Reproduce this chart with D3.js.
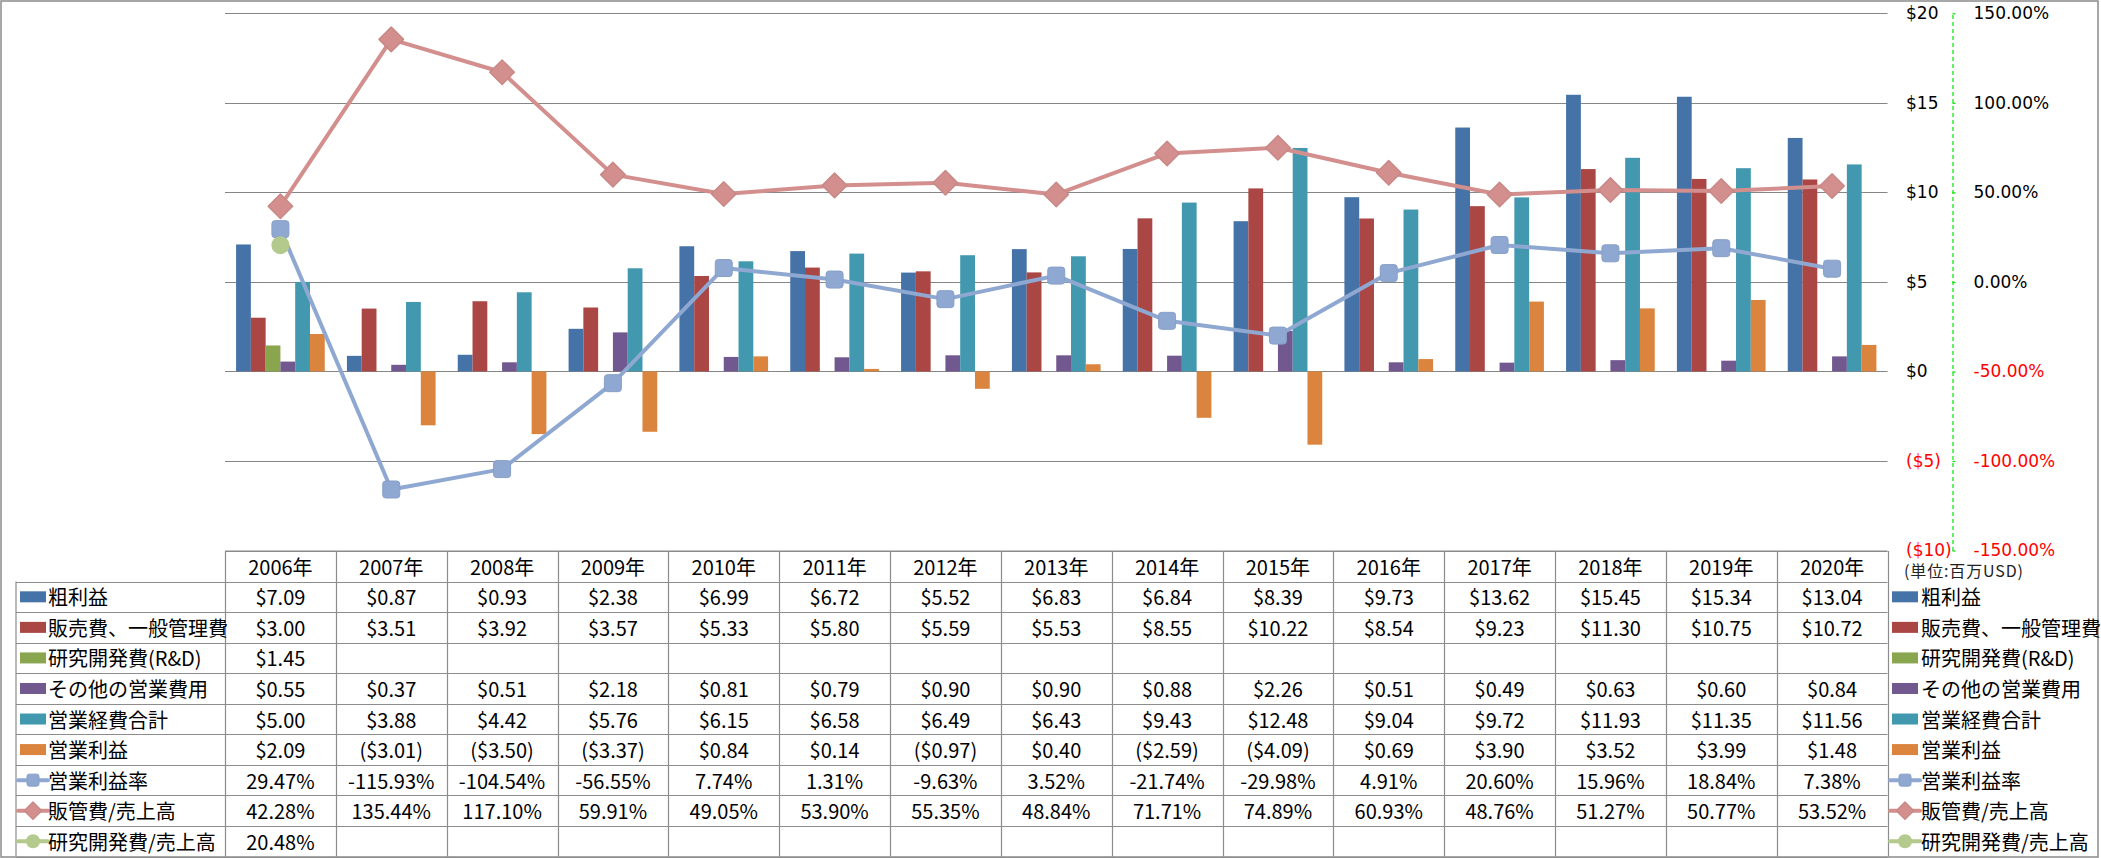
<!DOCTYPE html>
<html>
<head>
<meta charset="utf-8">
<script src="https://cdn.jsdelivr.net/npm/d3@7"></script>
<style>
  html, body { margin: 0; padding: 0; background: #fff; }
  svg { display: block; }
</style>
</head>
<body>
<svg id="chart" width="2101" height="858"></svg>
<script>
// ---------- DATA ----------
const years = ["2006年","2007年","2008年","2009年","2010年","2011年","2012年","2013年","2014年","2015年","2016年","2017年","2018年","2019年","2020年"];

const grossProfit = [7.09,0.87,0.93,2.38,6.99,6.72,5.52,6.83,6.84,8.39,9.73,13.62,15.45,15.34,13.04];
const sgaExpense  = [3.00,3.51,3.92,3.57,5.33,5.80,5.59,5.53,8.55,10.22,8.54,9.23,11.30,10.75,10.72];
const rndExpense  = [1.45,null,null,null,null,null,null,null,null,null,null,null,null,null,null];
const otherOpex   = [0.55,0.37,0.51,2.18,0.81,0.79,0.90,0.90,0.88,2.26,0.51,0.49,0.63,0.60,0.84];
const totalOpex   = [5.00,3.88,4.42,5.76,6.15,6.58,6.49,6.43,9.43,12.48,9.04,9.72,11.93,11.35,11.56];
const opIncome    = [2.09,-3.01,-3.50,-3.37,0.84,0.14,-0.97,0.40,-2.59,-4.09,0.69,3.90,3.52,3.99,1.48];

const opMargin    = [29.47,-115.93,-104.54,-56.55,7.74,1.31,-9.63,3.52,-21.74,-29.98,4.91,20.60,15.96,18.84,7.38];
const sgaRatio    = [42.28,135.44,117.10,59.91,49.05,53.90,55.35,48.84,71.71,74.89,60.93,48.76,51.27,50.77,53.52];
const rndRatio    = [20.48,null,null,null,null,null,null,null,null,null,null,null,null,null,null];

const dollarTicks  = [-10,-5,0,5,10,15,20];
const percentTicks = [-150,-100,-50,0,50,100,150];
const unitLabel = "(単位:百万USD)";

const barSeries = [
  {name:"粗利益",           values:grossProfit, color:"#4572A7"},
  {name:"販売費、一般管理費", values:sgaExpense,  color:"#AA4643"},
  {name:"研究開発費(R&D)",   values:rndExpense,  color:"#89A54E"},
  {name:"その他の営業費用",   values:otherOpex,   color:"#71588F"},
  {name:"営業経費合計",       values:totalOpex,   color:"#4198AF"},
  {name:"営業利益",           values:opIncome,    color:"#DB843D"}
];
const lineSeries = [
  {name:"営業利益率",        values:opMargin, color:"#8FA8D2", marker:"square"},
  {name:"販管費/売上高",      values:sgaRatio, color:"#D38F8D", marker:"diamond"},
  {name:"研究開発費/売上高",  values:rndRatio, color:"#B3CA8C", marker:"circle"}
];

// ---------- LAYOUT ----------
const svg = d3.select("#chart");
const plotL = 225, plotR = 1887.5, plotT = 13.3, plotB = 550.5;
const tableTop = 551, rowH = 30.55, tableLeft = 16;
const jpFont = "'Noto Sans CJK JP', 'Noto Sans', sans-serif";
const axFont = "'DejaVu Sans', sans-serif";

const x = d3.scaleBand().domain(years).range([plotL, plotR]).paddingInner(0).paddingOuter(0);
const bw = x.bandwidth();
const x1 = d3.scaleBand().domain(barSeries.map(s => s.name)).range([0, bw]).paddingInner(0).paddingOuter(0.75);
const y = d3.scaleLinear().domain([-10, 20]).range([plotB, plotT]);
const yP = d3.scaleLinear().domain([-150, 150]).range([plotB, plotT]);

// outer frame
svg.append("rect").attr("x", 1).attr("y", 1).attr("width", 2097).attr("height", 856)
  .attr("fill", "#fff").attr("stroke", "#8a8a8a").attr("stroke-width", 1.5);

// gridlines
svg.append("g").selectAll("line").data(dollarTicks).join("line")
  .attr("x1", plotL).attr("x2", plotR)
  .attr("y1", d => Math.round(y(d)) + 0.5).attr("y2", d => Math.round(y(d)) + 0.5)
  .attr("stroke", "#868686").attr("stroke-width", 1.2);

// bars
const barG = svg.append("g");
barSeries.forEach(s => {
  barG.append("g").selectAll("rect")
    .data(years.map((yr, i) => ({yr, v: s.values[i]})).filter(d => d.v != null))
    .join("rect")
    .attr("x", d => x(d.yr) + x1(s.name))
    .attr("width", x1.bandwidth())
    .attr("y", d => Math.min(y(d.v), y(0)))
    .attr("height", d => Math.abs(y(d.v) - y(0)))
    .attr("fill", s.color);
});

// marker drawing
function drawMarker(g, type, cx, cy, size, color) {
  if (type === "square") {
    g.append("rect").attr("x", cx - size/2).attr("y", cy - size/2)
      .attr("width", size).attr("height", size).attr("rx", size*0.18)
      .attr("fill", color).attr("stroke", d3.color(color).darker(0.15)).attr("stroke-width", 1);
  } else if (type === "diamond") {
    const h = size * 0.72;
    g.append("path").attr("d", `M${cx},${cy-h}L${cx+h},${cy}L${cx},${cy+h}L${cx-h},${cy}Z`)
      .attr("fill", color).attr("stroke", d3.color(color).darker(0.15)).attr("stroke-width", 1.5)
      .attr("stroke-linejoin", "round");
  } else {
    g.append("circle").attr("cx", cx).attr("cy", cy).attr("r", size/2)
      .attr("fill", color);
  }
}

// lines
const lineG = svg.append("g");
lineSeries.forEach(s => {
  const pts = years.map((yr, i) => ({yr, v: s.values[i]}));
  const line = d3.line().defined(d => d.v != null)
    .x(d => x(d.yr) + bw/2).y(d => yP(d.v));
  lineG.append("path").datum(pts).attr("d", line)
    .attr("fill", "none").attr("stroke", s.color).attr("stroke-width", 4)
    .attr("stroke-linejoin", "round");
  const mg = lineG.append("g");
  pts.filter(d => d.v != null).forEach(d => {
    drawMarker(mg, s.marker, x(d.yr) + bw/2, yP(d.v), s.marker === "circle" ? 18 : 17, s.color);
  });
});

// right axes
const axDollar = d3.axisRight(y).tickValues(dollarTicks).tickSize(0).tickPadding(0)
  .tickFormat(d => d < 0 ? `($${-d})` : `$${d}`);
const gD = svg.append("g").attr("transform", "translate(1906,0)").call(axDollar);
gD.select(".domain").remove();
gD.selectAll("text").attr("font-family", axFont).attr("font-size", 17)
  .attr("fill", d => d < 0 ? "#FF0000" : "#000");

const axPct = d3.axisRight(yP).tickValues(percentTicks).tickSize(3).tickSizeOuter(0).tickPadding(18)
  .tickFormat(d => d.toFixed(2) + "%");
const gP = svg.append("g").attr("transform", "translate(1952.5,0)").call(axPct);
gP.select(".domain").attr("stroke", "#00E600").attr("stroke-width", 1.2).attr("stroke-dasharray", "4,3");
gP.selectAll(".tick line").attr("stroke", "#00E600").attr("stroke-width", 1.2);
gP.selectAll("text").attr("font-family", axFont).attr("font-size", 17)
  .attr("fill", d => d < 0 ? "#FF0000" : "#000");

// unit label
svg.append("text").attr("x", 1904).attr("y", 573).attr("dominant-baseline", "middle")
  .attr("font-family", jpFont).attr("font-size", 16).attr("fill", "#222")
  .attr("textLength", 119).attr("lengthAdjust", "spacing")
  .text(unitLabel);

// ---------- DATA TABLE ----------
const tg = svg.append("g");
const gridCol = "#8c8c8c";
const nRows = barSeries.length + lineSeries.length;
const rowTop = i => tableTop + rowH * (i + 1);
const tableBottom = tableTop + rowH * (nRows + 1);

// header top
tg.append("line").attr("x1", plotL).attr("x2", plotR).attr("y1", tableTop).attr("y2", tableTop)
  .attr("stroke", gridCol).attr("stroke-width", 1.2);
// row lines
d3.range(nRows + 1).forEach(i => {
  tg.append("line").attr("x1", tableLeft).attr("x2", plotR)
    .attr("y1", Math.round(rowTop(i)) + 0.5).attr("y2", Math.round(rowTop(i)) + 0.5)
    .attr("stroke", gridCol).attr("stroke-width", 1.2);
});
// vertical lines
tg.append("line").attr("x1", tableLeft).attr("x2", tableLeft).attr("y1", rowTop(0)).attr("y2", tableBottom)
  .attr("stroke", gridCol).attr("stroke-width", 1.2);
d3.range(years.length + 1).forEach(i => {
  const xx = Math.round(plotL + bw * i) + 0.5;
  tg.append("line").attr("x1", xx).attr("x2", xx).attr("y1", tableTop).attr("y2", tableBottom)
    .attr("stroke", gridCol).attr("stroke-width", 1.2);
});

// header years
tg.append("g").selectAll("text").data(years).join("text")
  .attr("x", d => x(d) + bw/2).attr("y", tableTop + rowH/2)
  .attr("text-anchor", "middle").attr("dominant-baseline", "central")
  .attr("font-family", jpFont).attr("font-size", 20).attr("fill", "#000")
  .text(d => d);

const fmtDollar = v => v == null ? "" : (v < 0 ? `($${(-v).toFixed(2)})` : `$${v.toFixed(2)}`);
const fmtPct = v => v == null ? "" : `${v.toFixed(2)}%`;

const allRows = barSeries.map(s => ({...s, kind:"bar", fmt: fmtDollar}))
  .concat(lineSeries.map(s => ({...s, kind:"line", fmt: fmtPct})));

function legendKey(g, s, kx, cy) {
  if (s.kind === "bar") {
    g.append("rect").attr("x", kx + 2).attr("y", cy - 5.5).attr("width", 26).attr("height", 11).attr("fill", s.color);
  } else {
    g.append("line").attr("x1", kx).attr("x2", kx + 30).attr("y1", cy).attr("y2", cy)
      .attr("stroke", s.color).attr("stroke-width", 4).attr("stroke-linecap", "round");
    drawMarker(g, s.marker, kx + 15, cy, s.marker === "circle" ? 14 : 12, s.color);
  }
}

allRows.forEach((s, r) => {
  const cy = rowTop(r) + rowH/2;
  // left label
  legendKey(tg, s, 18, cy);
  tg.append("text").attr("x", 48).attr("y", cy).attr("dominant-baseline", "central")
    .attr("font-family", jpFont).attr("font-size", 20).attr("fill", "#000").text(s.name);
  // right legend
  legendKey(tg, s, 1890, cy);
  tg.append("text").attr("x", 1921).attr("y", cy).attr("dominant-baseline", "central")
    .attr("font-family", jpFont).attr("font-size", 20).attr("fill", "#000").text(s.name);
  // values
  tg.append("g").selectAll("text").data(years.map((yr, i) => ({yr, v: s.values[i]}))).join("text")
    .attr("x", d => x(d.yr) + bw/2).attr("y", cy)
    .attr("text-anchor", "middle").attr("dominant-baseline", "central")
    .attr("font-family", jpFont).attr("font-size", 20).attr("fill", "#000")
    .text(d => s.fmt(d.v));
});
</script>
</body>
</html>
